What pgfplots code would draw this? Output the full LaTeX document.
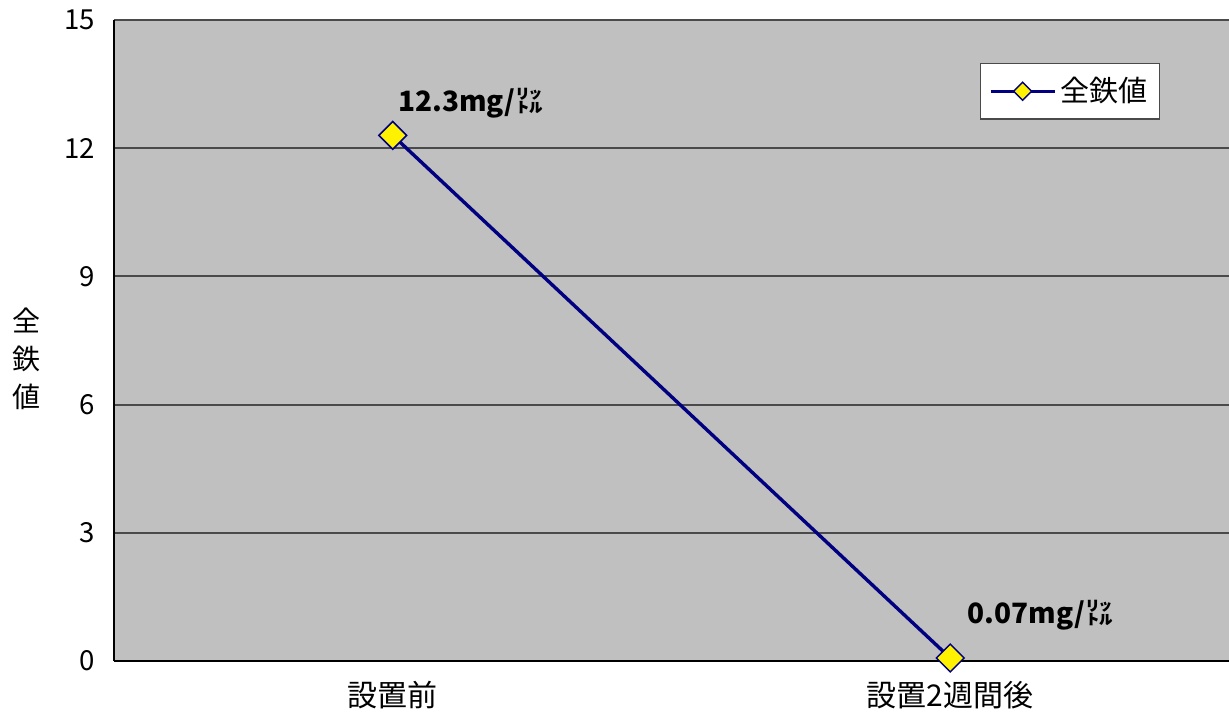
\documentclass[border=0pt]{standalone}
\usepackage{pgfplots}
\pgfplotsset{compat=1.18}
\usepackage{fontspec}
\setmainfont{Noto Sans CJK JP}

\definecolor{plotbg}{HTML}{C0C0C0}
\definecolor{gridc}{HTML}{4A4A4A}
\definecolor{navyline}{HTML}{000080}

\begin{document}
\begin{tikzpicture}
  \begin{axis}[
    scale only axis,
    width=557.5pt, height=320.5pt,
    xmin=-0.5, xmax=1.5,
    ymin=0, ymax=15,
    axis background/.style={fill=plotbg},
    axis x line=bottom, axis y line=left,
    axis line style={-, black, line width=0.9pt},
    xtick={0,1},
    xticklabels={設置前, 設置2週間後},
    x tick style={draw=none},
    extra x ticks={0.5},
    extra x tick labels={},
    extra x tick style={tick align=inside, major tick length=5pt, tick style={draw=black, line width=0.6pt}},
    xticklabel style={font=\fontsize{15}{18}\selectfont, anchor=center, yshift=-17pt},
    ytick={0,3,...,15},
    ymajorgrids,
    major grid style={gridc, line width=1pt},
    y tick style={draw=gridc, line width=1pt},
    tick align=inside, major tick length=5pt,
    yticklabel style={font=\fontsize{13.8}{16}\selectfont, xshift=-6pt},
    /pgf/number format/assume math mode=true,
    clip=false,
    legend style={
      at={(0.938,0.933)}, anchor=north east,
      draw=gridc, line width=0.6pt, fill=white,
      font=\fontsize{14.5}{16}\selectfont,
      inner xsep=4pt, inner ysep=5pt,
    },
    legend image code/.code={
      \draw[mark repeat=2,mark phase=2, every mark/.append style={scale=0.65}]
        plot coordinates {(0pt,0pt) (16pt,0pt) (32pt,0pt)};
    },
  ]
  \addplot[navyline, line width=1.7pt,
    mark=square*, mark size=4.9pt,
    mark options={rotate=45, fill=yellow, draw=navyline, line width=0.75pt}]
    coordinates {
      (0, 12.3)
      (1, 0.07)
    };
  \addlegendentry{全鉄値}

  \node[anchor=base west, font=\fontsize{14}{16}\selectfont\bfseries, inner sep=0pt]
    at (axis cs:0,12.3) [xshift=2.5pt, yshift=11.7pt] {12.3mg/㍑};
  \node[anchor=base west, font=\fontsize{14}{16}\selectfont\bfseries, inner sep=0pt]
    at (axis cs:1,0.07) [xshift=8.5pt, yshift=17.5pt] {0.07mg/㍑};
  \node[align=center, font=\fontsize{14}{19}\selectfont, inner sep=0pt]
    at (rel axis cs:0,0) [xshift=-43.5pt, yshift=151pt] {全\\鉄\\値};
  \end{axis}
  \pgfresetboundingbox
  \path[use as bounding box] (-57pt,-30pt) rectangle (557.5pt,330.5pt);
\end{tikzpicture}
\end{document}
